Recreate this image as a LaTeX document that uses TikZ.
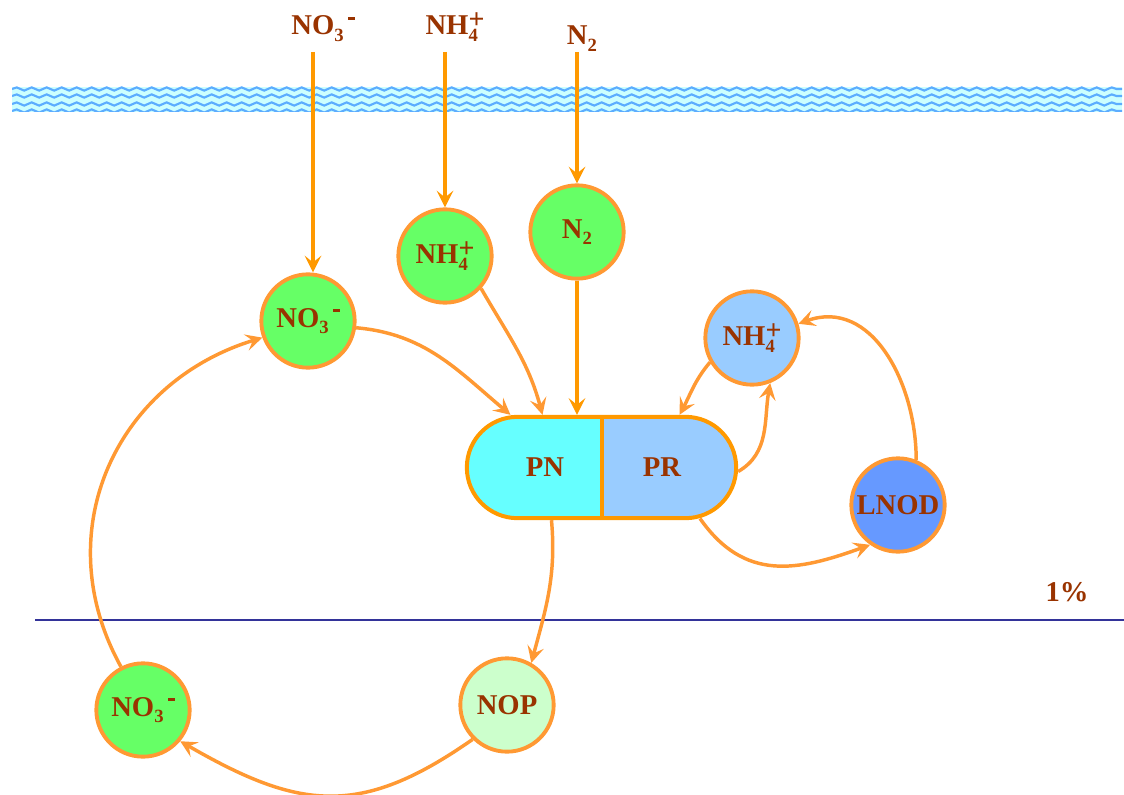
\documentclass[tikz,border=0pt]{standalone}
\usepackage{fontspec}
\setmainfont{Liberation Serif}
\usetikzlibrary{arrows.meta,shapes.misc,calc,decorations.pathmorphing}
\definecolor{txt}{HTML}{993300}
\definecolor{ring}{HTML}{FF9933}
\definecolor{capo}{HTML}{FF9900}
\definecolor{grn}{HTML}{66FF66}
\definecolor{pale}{HTML}{CCFFCC}
\definecolor{cyanf}{HTML}{66FFFF}
\definecolor{lblu}{HTML}{99CCFF}
\definecolor{dblu}{HTML}{6699FF}
\definecolor{navy}{HTML}{333399}
\definecolor{bandbg}{HTML}{CCFFFF}
\definecolor{wave}{HTML}{3399FF}
% chemical formula pieces
\newcommand{\lowr}[1]{\raisebox{-5pt}{\fontsize{14}{14}\selectfont #1}}
\newcommand{\nthree}{NO\lowr{3}\hspace{3.5pt}\raisebox{11pt}{\rule{4.8pt}{2.3pt}}}
\newcommand{\nhfour}{NH\rlap{\lowr{4}}\raisebox{4.5pt}{\fontsize{21}{21}\selectfont +}}
\newcommand{\ntwo}{N\lowr{2}}
\begin{document}
\begin{tikzpicture}[x=0.75pt,y=-0.75pt,
  lbl/.style={text=txt, font=\bfseries\fontsize{21.5}{24}\selectfont, inner sep=0pt},
  pool/.style={circle, draw=ring, line width=2.9pt, minimum size=70pt, lbl},
  flow/.style={draw=ring, line width=2.6pt, -{Stealth[length=12.5pt,width=12.5pt,inset=5pt]}},
  feed/.style={flow, draw=capo},
]
\useasboundingbox (0,0) rectangle (1124,795);

% surface water band
\begin{scope}
  \clip (12,87) rectangle (1122,112);
  \fill[bandbg] (12,87) rectangle (1122,112);
  \foreach \yy in {89,96,104,111}
    \draw[wave!80!white, line width=1.6pt, decorate,
          decoration={snake, segment length=11.25pt, amplitude=1.2pt}]
      (12,\yy) -- (1122,\yy);
\end{scope}

% depth line
\draw[navy, line width=1.4pt] (35,620) -- (1124,620);
\node[lbl] (pct) at (1067,592) {1\%};

% source labels
\node[lbl, anchor=base] (s1) at (323,35) {\nthree};
\node[lbl, anchor=base] (s2) at (455,35) {\nhfour};
\node[lbl, anchor=base] (s3) at (582,45) {\ntwo};

% pools
\node[pool, fill=grn]  (no3t) at (308,321) {\nthree};
\node[pool, fill=grn]  (nh4g) at (445,256) {\nhfour};
\node[pool, fill=grn]  (n2g)  at (577,232) {\ntwo};
\node[pool, fill=lblu] (nh4b) at (752,338) {\nhfour};
\node[pool, fill=dblu] (lnod) at (898,505) {LNOD};
\node[pool, fill=grn]  (no3b) at (143,710) {\nthree};
\node[pool, fill=pale] (nop)  at (507,705) {NOP};

% phytoplankton capsule
\node[rounded rectangle, draw=capo, line width=3pt,
      minimum width=202pt, minimum height=76pt, inner sep=0pt,
      path picture={
        \fill[cyanf] (path picture bounding box.south west) rectangle (path picture bounding box.north);
        \fill[lblu] (path picture bounding box.north) rectangle (path picture bounding box.south east);
        \draw[capo, line width=3pt] (path picture bounding box.north) -- (path picture bounding box.south);
      }] (cap) at (601.5,467.5) {};
\node[lbl] (pn) at (545,467) {PN};
\node[lbl] (pr) at (662,467) {PR};

% attachment points on the capsule
\coordinate (inA) at ($(cap.north)+(-91,0)$);
\coordinate (inB) at ($(cap.north)+(-59,0)$);
\coordinate (inC) at (cap.north -| n2g);
\coordinate (inD) at ($(cap.north)+(78,0)$);
\coordinate (outE) at ($(cap.east)+(0,4)$);
\coordinate (outF) at ($(cap.center)+(98.5,51)$);
\coordinate (outG) at ($(cap.south)+(-50,0)$);

% inputs from the surface
\draw[feed] ($(s1.base -| no3t.north)+(5,17)$) -- ($(no3t.north)+(5,0)$);
\draw[feed] ($(s2.base -| nh4g.north)+(0,17)$) -- (nh4g.north);
\draw[feed] ($(s3.base -| n2g.north)+(0,7)$) -- (n2g.north);

% uptake
\draw[flow] (no3t.-8) to[out=-5, in=140] (inA);
\draw[flow] (nh4g.-42) to[out=-60, in=105] (inB);
\draw[feed] (n2g.south) -- (inC);
\draw[flow] (nh4b.210) to[out=-130, in=62] (inD);

% regeneration
\draw[flow] (outE) to[out=30, in=-100] (nh4b.-68);
\draw[flow] (lnod.68) to[out=90, in=20, looseness=1.1] (nh4b.17);
\draw[flow] (outF) to[out=-55, in=200, looseness=1.15] (lnod.235);

% export and nitrification
\draw[flow] (outG) to[out=-85, in=75] (nop.60);
\draw[flow] (nop.225) to[out=-145, in=-30, looseness=1.2] (no3b.-40);
\draw[flow] (no3b.117) to[out=119, in=197, looseness=1.1] (no3t.200);
\end{tikzpicture}
\end{document}
